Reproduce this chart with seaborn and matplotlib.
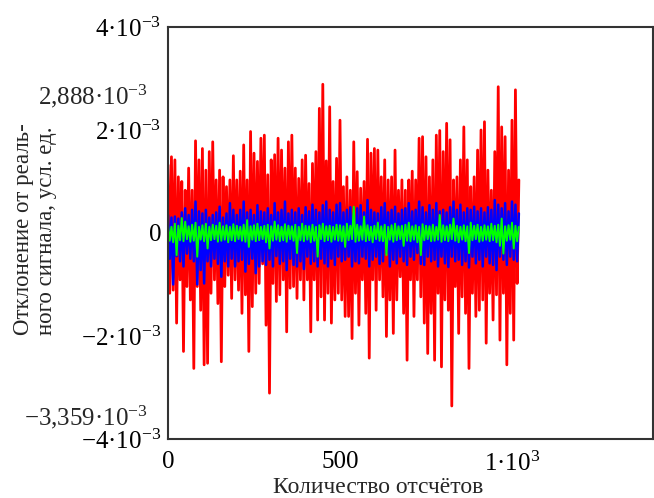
import numpy as np
import pandas as pd
import matplotlib
matplotlib.use('Agg')
import matplotlib.pyplot as plt
import seaborn as sns

# values are in units of 1e-3
SCALE = 1e-3
STEP = 10  # samples between successive peaks (dips sit halfway)

# red: local peaks at samples 0, 10, 20 ... and dips at 5, 15, 25 ...
red_up = [1.32, 1.48, 1.42, 1.09, 1.0, 0.83, 1.26, 0.83, 1.79, 1.42,
          1.64, 1.22, 1.58, 1.77, 1.03, 1.22, 1.09, 0.90, 1.03, 1.50,
          1.03, 1.2, 1.71, 1.03, 1.97, 1.55, 1.39, 1.84, 1.90, 1.13,
          1.42, 1.52, 1.84, 1.61, 1.26, 1.77, 1.90, 1.26, 1.06, 1.42,
          1.51, 0.96, 1.35, 1.58, 2.42, 2.888, 1.4, 2.45, 1.0, 1.45,
          2.19, 0.9, 1.09, 0.83, 1.77, 1.19, 0.87, 1.0, 1.82, 1.55,
          1.64, 1.61, 1.09, 1.42, 1.03, 1.09, 1.61, 0.83, 1.03, 0.83,
          1.03, 1.2, 1.03, 1.84, 1.87, 1.48, 1.09, 1.42, 1.90, 1.99,
          1.58, 2.13, 1.81, 1.03, 1.09, 1.42, 2.06, 1.42, 0.90, 1.09,
          1.61, 2.0, 2.16, 1.22, 0.83, 1.58, 2.84, 2.06, 1.87, 1.22,
          2.19, 2.78, 1.03]
red_dn = [-1.17, -1.11, -1.75, -0.91, -2.30, -1.04, -1.30, -2.63, -1.04, -1.50,
          -2.56, -2.53, -1.17, -0.91, -1.37, -2.50, -1.04, -0.82, -1.27, -0.91,
          -1.11, -1.56, -1.2, -2.30, -1.43, -1.17, -0.98, -0.6, -1.79, -3.11,
          -0.98, -1.33, -1.2, -0.91, -1.92, -1.07, -1.04, -1.27, -0.91, -1.30,
          -0.91, -1.92, -0.91, -1.69, -1.24, -1.69, -1.17, -1.75, -1.30, -1.17,
          -1.30, -1.62, -1.62, -2.05, -1.17, -1.79, -0.91, -1.56, -2.43, -0.91,
          -1.50, -0.91, -1.24, -2.01, -1.30, -1.95, -1.30, -0.85, -1.56, -2.47,
          -0.91, -1.62, -0.91, -1.24, -1.75, -2.34, -1.56, -2.47, -1.17, -2.60,
          -1.30, -1.50, -3.359, -1.04, -1.95, -1.24, -1.56, -2.63, -1.17, -1.62,
          -1.50, -1.30, -2.14, -1.17, -1.69, -1.2, -2.08, -1.17, -2.56, -1.56,
          -2.08, -0.98]

blue_up = [0.35, 0.30, 0.32, 0.28, 0.40, 0.48, 0.35, 0.45, 0.61, 0.42,
           0.38, 0.45, 0.30, 0.35, 0.40, 0.51, 0.30, 0.38, 0.58, 0.45,
           0.35, 0.45, 0.61, 0.40, 0.45, 0.35, 0.54, 0.42, 0.40, 0.48,
           0.35, 0.58, 0.40, 0.45, 0.61, 0.38, 0.45, 0.40, 0.48, 0.35,
           0.50, 0.42, 0.55, 0.45, 0.40, 0.54, 0.61, 0.45, 0.40, 0.55,
           0.58, 0.40, 0.45, 0.50, 0.38, 0.48, 0.54, 0.40, 0.64, 0.45,
           0.40, 0.38, 0.50, 0.58, 0.40, 0.45, 0.51, 0.38, 0.45, 0.48,
           0.58, 0.42, 0.45, 0.61, 0.50, 0.40, 0.54, 0.45, 0.58, 0.42,
           0.45, 0.40, 0.50, 0.61, 0.45, 0.55, 0.40, 0.48, 0.45, 0.51,
           0.42, 0.48, 0.40, 0.50, 0.45, 0.64, 0.55, 0.48, 0.58, 0.42,
           0.61, 0.55, 0.38]
blue_dn = [-0.50, -1.00, -0.45, -0.55, -0.65, -0.40, -0.50, -0.55, -1.00, -0.72,
           -0.98, -0.55, -0.65, -0.50, -0.60, -0.85, -0.55, -0.65, -0.50, -0.65,
           -0.55, -0.52, -0.75, -0.60, -0.50, -0.78, -0.65, -0.55, -0.62, -0.52,
           -0.65, -0.45, -0.60, -0.55, -0.72, -0.50, -0.62, -0.65, -0.55, -0.70,
           -0.46, -0.60, -0.55, -0.65, -0.50, -0.59, -0.65, -0.50, -0.62, -0.46,
           -0.55, -0.52, -0.46, -0.65, -0.55, -0.59, -0.46, -0.50, -0.65, -0.52,
           -0.46, -0.60, -0.55, -0.39, -0.65, -0.52, -0.59, -0.46, -0.55, -0.62,
           -0.46, -0.52, -0.39, -0.60, -0.62, -0.46, -0.55, -0.52, -0.65, -0.46,
           -0.59, -0.66, -0.46, -0.55, -0.52, -0.62, -0.55, -0.67, -0.46, -0.59,
           -0.52, -0.65, -0.46, -0.59, -0.62, -0.72, -0.46, -0.52, -0.62, -0.46,
           -0.52, -0.55]

green_up = [0.15, 0.12, 0.18, 0.14, 0.29, 0.22, 0.13, 0.16, 0.20, 0.12,
            0.15, 0.18, 0.12, 0.16, 0.14, 0.20, 0.13, 0.15, 0.12, 0.17,
            0.14, 0.12, 0.16, 0.25, 0.13, 0.15, 0.18, 0.12, 0.14, 0.16,
            0.13, 0.22, 0.15, 0.12, 0.17, 0.14, 0.13, 0.16, 0.12, 0.18,
            0.14, 0.13, 0.16, 0.12, 0.15, 0.18, 0.13, 0.14, 0.12, 0.16,
            0.15, 0.13, 0.18, 0.14, 0.51, 0.16, 0.13, 0.32, 0.15, 0.12,
            0.14, 0.20, 0.13, 0.16, 0.12, 0.15, 0.18, 0.13, 0.14, 0.16,
            0.20, 0.13, 0.15, 0.12, 0.17, 0.14, 0.13, 0.16, 0.12, 0.35,
            0.15, 0.13, 0.16, 0.28, 0.14, 0.12, 0.15, 0.13, 0.20, 0.14,
            0.16, 0.12, 0.15, 0.13, 0.18, 0.14, 0.16, 0.28, 0.13, 0.15,
            0.20, 0.14, 0.12]
green_dn = [-0.15, -0.18, -0.43, -0.14, -0.16, -0.12, -0.17, -0.15, -0.46, -0.13,
            -0.16, -0.30, -0.14, -0.12, -0.17, -0.15, -0.13, -0.18, -0.14, -0.16,
            -0.12, -0.15, -0.17, -0.27, -0.13, -0.16, -0.14, -0.12, -0.18, -0.30,
            -0.15, -0.13, -0.16, -0.14, -0.17, -0.12, -0.15, -0.39, -0.14, -0.16,
            -0.13, -0.18, -0.15, -0.46, -0.12, -0.16, -0.14, -0.17, -0.13, -0.15,
            -0.16, -0.27, -0.14, -0.12, -0.17, -0.15, -0.13, -0.16, -0.14, -0.18,
            -0.12, -0.15, -0.16, -0.43, -0.13, -0.17, -0.14, -0.12, -0.25, -0.15,
            -0.16, -0.13, -0.18, -0.43, -0.14, -0.12, -0.16, -0.15, -0.13, -0.17,
            -0.14, -0.16, -0.12, -0.15, -0.18, -0.13, -0.16, -0.39, -0.14, -0.12,
            -0.17, -0.15, -0.13, -0.16, -0.14, -0.18, -0.25, -0.40, -0.15, -0.13,
            -0.30, -0.16]

x_ticks = [0, 500, 1000]
x_ticklabels = ['0', '500', '1·10$^{3}$']
y_ticks = [-4, -2, 0, 2, 4]
y_ticklabels = ['−4·10$^{−3}$', '−2·10$^{−3}$', '0',
                '2·10$^{−3}$', '4·10$^{−3}$']
marker_vals = [2.888, -3.359]
# the 9 sits in its own group: mathtext kerns "59" badly in this font
marker_labels = ['2,888·10$^{−3}$', '−3,35${9}$·10$^{−3}$']


def build(up, dn):
    a = pd.DataFrame({'n': np.arange(len(up)) * STEP, 'v': up})
    b = pd.DataFrame({'n': np.arange(len(dn)) * STEP + STEP // 2, 'v': dn})
    d = pd.concat([a, b]).sort_values('n').reset_index(drop=True)
    d['v'] = d['v'] * SCALE
    return d


sns.set_style('white')
plt.rcParams['font.family'] = ['Liberation Serif', 'DejaVu Serif']
plt.rcParams['mathtext.fontset'] = 'custom'
plt.rcParams['mathtext.rm'] = 'Liberation Serif'
plt.rcParams['mathtext.it'] = 'Liberation Serif:italic'
plt.rcParams['mathtext.bf'] = 'Liberation Serif:bold'

fig = plt.figure(figsize=(6.54, 4.98), dpi=100)
ax = fig.add_axes([0.2569, 0.1185, 0.7416, 0.8273])

for up, dn, col, lw in [(red_up, red_dn, '#ff0000', 2.0),
                        (blue_up, blue_dn, '#0000ff', 1.8),
                        (green_up, green_dn, '#00ff00', 1.4)]:
    d = build(up, dn)
    sns.lineplot(data=d, x='n', y='v', color=col, linewidth=lw,
                 estimator=None, sort=False, ax=ax)

ax.set_xlim(0, 1410)
ax.set_ylim(-4 * SCALE, 4 * SCALE)

ax.set_xticks(x_ticks)
ax.set_xticklabels(x_ticklabels)
ax.set_yticks([v * SCALE for v in y_ticks])
ax.set_yticklabels(y_ticklabels)
ax.tick_params(direction='in', length=6, width=1.2, color='#333333',
               labelsize=18, labelcolor='black')
ax.tick_params(axis='x', pad=9)
ax.tick_params(axis='y', pad=5)

for v, lab in zip(marker_vals, marker_labels):
    ax.annotate(lab, xy=(0, v * SCALE), xycoords=ax.get_yaxis_transform(),
                xytext=(-20, -9), textcoords='offset pixels',
                ha='right', va='center_baseline', fontsize=18)

for s in ax.spines.values():
    s.set_visible(True)
    s.set_color('#333333')
    s.set_linewidth(1.5)

ax.set_xlabel('Количество отсчётов', fontsize=17)
ax.xaxis.set_label_coords(0.433, -0.093)
ax.set_ylabel('Отклонение от реаль-\nного сигнала, усл. ед.', fontsize=16.5,
              multialignment='left', linespacing=1.15)
ax.yaxis.set_label_coords(-0.229, 0.51)

fig.savefig('out.png', dpi=100)
